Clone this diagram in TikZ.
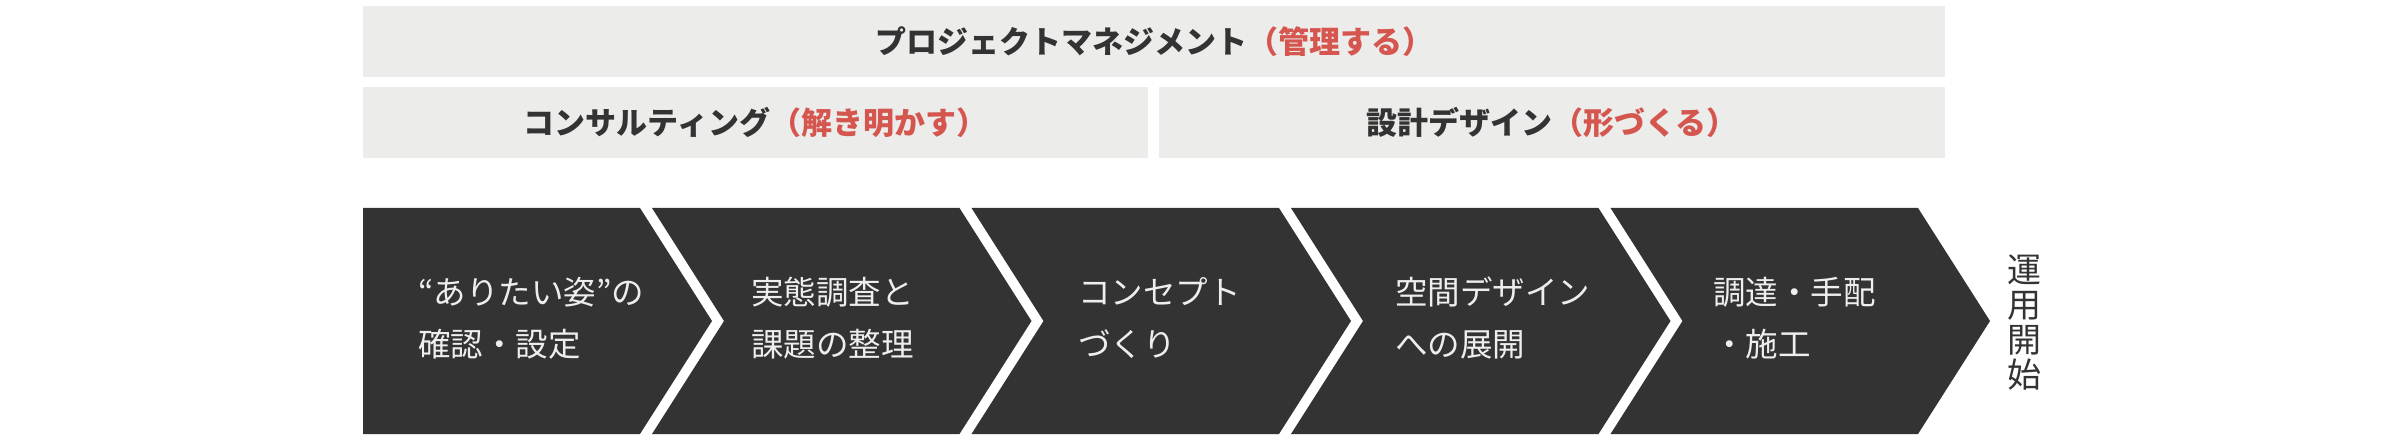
\documentclass[tikz,border=0pt]{standalone}
\usepackage{fontspec}
\newfontfamily\jp{Noto Sans CJK JP}
\definecolor{boxgray}{HTML}{ECECEA}
\definecolor{darkfill}{HTML}{333333}
\definecolor{accent}{HTML}{D5554F}
\definecolor{lighttext}{HTML}{EEEEEE}
\begin{document}
\begin{tikzpicture}[x=1pt,y=-1pt,
  bandbox/.style={fill=boxgray},
  bandtext/.style={inner sep=0pt, text=darkfill, font={\jp\bfseries\fontsize{31}{36}\selectfont}},
  chev/.style={fill=darkfill},
  chevtext/.style={inner sep=0pt, anchor=west, align=left, text=lighttext, font={\jp\fontsize{32.5}{52}\selectfont}},
  endtext/.style={inner sep=0pt, align=center, text=darkfill, font={\jp\fontsize{34}{35}\selectfont}}
]
\useasboundingbox (0,0) rectangle (2404,438);
% bands
\fill[bandbox] (363,6) rectangle (1945,77);
\fill[bandbox] (363,87) rectangle (1148,158);
\fill[bandbox] (1159,87) rectangle (1945,158);
\node[bandtext] (pm) at (1154,41.5) {プロジェクトマネジメント\textcolor{accent}{（管理する）}};
\node[bandtext] (cs) at (755.5,122.5) {コンサルティング\textcolor{accent}{（解き明かす）}};
\node[bandtext] (sd) at (1552,122.5) {設計デザイン\textcolor{accent}{（形づくる）}};
% chevrons
\fill[chev] (363,208) -- (640,208) -- (712,321) -- (640,434) -- (363,434) -- cycle;
\foreach \L/\R in {652/959.5, 971.5/1279, 1291/1598.5, 1610.5/1918}{
  \fill[chev] (\L,208) -- (\R,208) -- ({\R+72},321) -- (\R,434) -- (\L,434) -- ({\L+72},321) -- cycle;
}
\node[chevtext] (s1) at (418,318) {“ありたい姿”の\\確認・設定};
\node[chevtext] (s2) at (751,318) {実態調査と\\課題の整理};
\node[chevtext] (s3) at (1078,318) {コンセプト\\づくり};
\node[chevtext] (s4) at (1395,318) {空間デザイン\\への展開};
\node[chevtext] (s5) at (1713,318) {調達・手配\\・施工};
\node[endtext] (go) at (2024,323) {運\\用\\開\\始};
\end{tikzpicture}
\end{document}
